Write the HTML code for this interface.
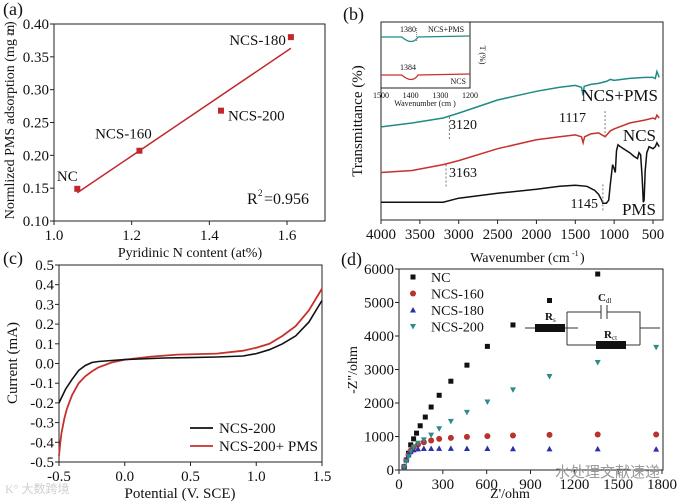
<!DOCTYPE html>
<html><head><meta charset="utf-8"><style>
body{margin:0;background:#fff}
svg{display:block;font-family:"Liberation Serif","DejaVu Serif",serif}
svg text{font-family:"Liberation Serif","DejaVu Serif",serif;fill:#111}
</style></head><body>
<svg id="s" width="678" height="503" viewBox="0 0 678 503"></svg>
<script>
// ---- panel a data
const aX=[1.06,1.22,1.43,1.61];
const aY=[0.149,0.207,0.268,0.380];
const aLabels=["NC","NCS-160","NCS-200","NCS-180"];
const aFitX=[1.06,1.61];
const aFitY=[0.143,0.363];
const aXTicks=[1.0,1.2,1.4,1.6];
const aYTicks=[0.10,0.15,0.20,0.25,0.30,0.35,0.40];
// ---- panel b data
const bPmsX=[4000,3600,3200,3000,2500,2000,1700,1500,1350,1250,1200,1160,1145,1100,1070,1050,1020,1000,985,970,950,920,880,800,740,700,680,660,640,625,615,600,580,550,500,470,450,420];
const bPmsY=[9,9,9,11,13.5,15.5,17,17.5,17,15,13,10,8.5,8.5,10,18,28,26,24,35,38,37,36,34,32,31,34,33,22,9,10,25,34,37,36,37,39,37];
const bNcsX=[4000,3600,3200,3000,2500,2000,1700,1500,1420,1400,1380,1300,1200,1117,1050,1000,800,600,500,470,450,420];
const bNcsY=[24,25,28,30,36,40.5,42,43,42,39,42,43.5,44,42,45,46,49,50.5,51.5,51,53,51.5];
const bMixX=[4000,3600,3200,3000,2500,2000,1700,1500,1420,1400,1385,1300,1200,1100,1050,1000,800,600,500,470,450,420];
const bMixY=[47,49,51.5,54,60.6,65,67,68,67,63,67.5,68.5,69,70,71,70.5,71.5,72,72,71.5,75,72];
const bXTicks=[4000,3500,3000,2500,2000,1500,1000,500];
// ---- panel c data
const cBlkX=[-0.5,-0.45,-0.4,-0.35,-0.3,-0.25,-0.2,-0.1,0,0.3,0.5,0.7,0.9,1.0,1.1,1.2,1.3,1.4,1.5];
const cBlkY=[-0.2,-0.13,-0.08,-0.035,-0.01,0.005,0.01,0.015,0.02,0.028,0.03,0.033,0.038,0.05,0.07,0.1,0.14,0.21,0.32];
const cRedX=[-0.5,-0.49,-0.48,-0.46,-0.44,-0.4,-0.35,-0.3,-0.25,-0.2,-0.1,0,0.2,0.4,0.7,0.9,1.0,1.1,1.2,1.3,1.4,1.5];
const cRedY=[-0.47,-0.4,-0.35,-0.28,-0.23,-0.16,-0.1,-0.065,-0.04,-0.02,0.005,0.02,0.035,0.045,0.05,0.065,0.08,0.1,0.14,0.19,0.27,0.38];
const cXTicks=[-0.5,0.0,0.5,1.0,1.5];
const cYTicks=[-0.5,-0.4,-0.3,-0.2,-0.1,0.0,0.1,0.2,0.3,0.4,0.5];
// ---- panel d data
const dNcX=[35,50,65,80,100,120,145,180,220,275,355,465,605,780,1030,1360];
const dNcY=[100,300,500,750,930,1100,1320,1580,1880,2230,2650,3130,3690,4330,5060,5850];
const dX=[35,50,65,80,100,130,170,220,275,355,465,605,780,1030,1360,1760];
const d160Y=[100,300,450,580,680,760,830,880,930,960,990,1010,1030,1050,1060,1060];
const d180Y=[100,300,450,550,600,630,640,640,645,645,640,640,635,630,630,625];
const d200Y=[80,250,400,550,680,800,900,1040,1230,1450,1720,2030,2390,2790,3210,3660];
const dXTicks=[0,300,600,900,1200,1500,1800];
const dYTicks=[0,1000,2000,3000,4000,5000,6000];

const S=document.getElementById('s');
const NS='http://www.w3.org/2000/svg';
function el(tag,attrs,parent,txt){const e=document.createElementNS(NS,tag);for(const k in attrs)e.setAttribute(k,attrs[k]);if(tag==='text')e.setAttribute('font-family','Liberation Serif, DejaVu Serif, serif');if(txt!==undefined)e.textContent=txt;(parent||S).appendChild(e);return e;}
function lin(d0,d1,p0,p1){return v=>p0+(v-d0)/(d1-d0)*(p1-p0);}
function grp(name){const g=el('g',{});return g;}
function path(xs,ys,fx,fy){return xs.map((x,i)=>(i?'L':'M')+fx(x).toFixed(1)+','+fy(ys[i]).toFixed(1)).join('');}
function frame(g,L,T,R,B){el('rect',{x:L,y:T,width:R-L,height:B-T,fill:'none',stroke:'#222','stroke-width':1},g);}
function xticks(g,ticks,fx,B,fmt,fs){ticks.forEach(t=>{el('line',{x1:fx(t),x2:fx(t),y1:B,y2:B+4,stroke:'#222'},g);const tx=el('text',{x:fx(t),y:B+19,'text-anchor':'middle','font-size':fs||15},g,fmt(t));});}
function yticks(g,ticks,fy,L,fmt,fs){ticks.forEach(t=>{el('line',{x1:L-4,x2:L,y1:fy(t),y2:fy(t),stroke:'#222'},g);const tx=el('text',{x:L-5,y:fy(t)+5,'text-anchor':'end','font-size':fs||15},g,fmt(t));});}

// ===== Panel A
(function(){
const g=grp('panel-a');
const L=54,R=325,T=24,B=221;
const fx=lin(1.0,1.6,54,287),fy=lin(0.10,0.40,221,24);
frame(g,L,T,R,B);
xticks(g,aXTicks,fx,B,v=>v.toFixed(1));
yticks(g,aYTicks,fy,L,v=>v.toFixed(2));
const fit=el('path',{d:path(aFitX,aFitY,fx,fy),stroke:'#c0282d','stroke-width':1.5,fill:'none'},g);

const off=[[-10,-8,'middle'],[-16,-12,'middle'],[7,10,'start'],[-5,8,'end']];
aX.forEach((x,i)=>{const r=el('rect',{x:fx(x)-3,y:fy(aY[i])-3,width:6,height:6,fill:'#c0282d'},g);

el('text',{x:fx(x)+off[i][0],y:fy(aY[i])+off[i][1],'font-size':15,'text-anchor':off[i][2]},g,aLabels[i]);});
el('text',{x:247,y:204,'font-size':16},g,'R');el('text',{x:258,y:196,'font-size':9},g,'2');el('text',{x:264,y:204,'font-size':16},g,'=0.956');
const yt=el('text',{x:14,y:122,'font-size':14,'text-anchor':'middle',transform:'rotate(-90 14 122)'},g,'Normlized PMS adsorption (mg m');

el('text',{x:14,y:36,'font-size':9,transform:'rotate(-90 14 36)'},g,'-2');
el('text',{x:14,y:26,'font-size':14,transform:'rotate(-90 14 26)'},g,')');
const xt=el('text',{x:190,y:257,'font-size':14,'text-anchor':'middle'},g,'Pyridinic N content (at%)');

el('text',{x:3,y:15,'font-size':18},g,'(a)');
})();

// ===== Panel B
(function(){
const g=grp('panel-b');
const L=381,R=663,T=22,B=220;
const fx=lin(4000,500,381,653),fy=lin(0,100,220,22);
frame(g,L,T,R,B);
xticks(g,bXTicks,fx,B,v=>v);
const sets=[[bPmsX,bPmsY,'#111','pms-spectrum'],[bNcsX,bNcsY,'#c8302c','ncs-spectrum'],[bMixX,bMixY,'#1f8a86','ncs-pms-spectrum']];
sets.forEach(s=>{const p=el('path',{d:path(s[0],s[1],fx,fy),stroke:s[2],'stroke-width':1.5,fill:'none'},g);});
[[3120,3120,52,40],[3163,3163,28,16],[1117,1117,55,42],[1145,1145,18,4]].forEach(d=>el('line',{x1:fx(d[0]),x2:fx(d[1]),y1:fy(d[2]),y2:fy(d[3]),stroke:'#777','stroke-dasharray':'2,2'},g));
el('text',{x:449,y:129,'font-size':14},g,'3120');
el('text',{x:449,y:177,'font-size':14},g,'3163');
el('text',{x:586,y:122,'font-size':14,'text-anchor':'end'},g,'1117');
el('text',{x:598,y:208,'font-size':14,'text-anchor':'end'},g,'1145');
el('text',{x:658,y:101,'font-size':17,'text-anchor':'end'},g,'NCS+PMS');
el('text',{x:656,y:141,'font-size':17,'text-anchor':'end'},g,'NCS');
el('text',{x:656,y:215,'font-size':17,'text-anchor':'end'},g,'PMS');
// inset
const IL=381,IR=470,IT=22,IB=88;
el('rect',{x:IL,y:IT,width:IR-IL,height:IB-IT,fill:'#fff',stroke:'#222'},g);
const ix=lin(1500,1200,IL,IR);
[[37,'#1f8a86'],[75,'#c8302c']].forEach(c=>{const y=c[0];el('path',{d:`M${IL},${y}L${ix(1430)},${y}Q${ix(1395)},${y+9} ${ix(1375)},${y}L${IR},${y-1}`,stroke:c[1],'stroke-width':1.2,fill:'none'},g);});
el('line',{x1:ix(1380),x2:ix(1380),y1:28,y2:42,stroke:'#777','stroke-dasharray':'1,1'},g);
el('text',{x:400,y:32,'font-size':8},g,'1380');el('text',{x:428,y:32,'font-size':8},g,'NCS+PMS');
el('text',{x:400,y:70,'font-size':8},g,'1384');el('text',{x:466,y:84,'font-size':8,'text-anchor':'end'},g,'NCS');
[1500,1400,1300,1200].forEach(t=>el('text',{x:ix(t),y:98,'font-size':8,'text-anchor':'middle'},g,t));
el('text',{x:425,y:106,'font-size':8,'text-anchor':'middle'},g,'Wavenumber (cm  )');
el('text',{x:480,y:55,'font-size':8,'text-anchor':'middle',transform:'rotate(90 480 55)'},g,'T (%)');
const yt=el('text',{x:362,y:121,'font-size':15,'text-anchor':'middle',transform:'rotate(-90 362 121)'},g,'Transmittance (%)');

const xt=el('text',{x:520,y:262,'font-size':14,'text-anchor':'middle'},g,'Wavenumber (cm');
el('text',{x:572,y:256,'font-size':8},g,'-1');el('text',{x:580,y:262,'font-size':14},g,')');

el('text',{x:343,y:20,'font-size':18},g,'(b)');
})();

// ===== Panel C
(function(){
const g=grp('panel-c');
const L=59,R=322,T=265,B=462;
const fx=lin(-0.5,1.5,L,R),fy=lin(-0.5,0.5,B,T);
frame(g,L,T,R,B);
xticks(g,cXTicks,fx,B,v=>v.toFixed(1));
yticks(g,cYTicks,fy,L,v=>v.toFixed(1));
const r=el('path',{d:path(cRedX,cRedY,fx,fy),stroke:'#c8302c','stroke-width':1.8,fill:'none'},g);
const b=el('path',{d:path(cBlkX,cBlkY,fx,fy),stroke:'#111','stroke-width':1.6,fill:'none'},g);
el('line',{x1:190,x2:213,y1:428,y2:428,stroke:'#111','stroke-width':1.8},g);
el('text',{x:219,y:433,'font-size':15},g,'NCS-200');
el('line',{x1:190,x2:213,y1:446,y2:446,stroke:'#c8302c','stroke-width':1.8},g);
el('text',{x:219,y:451,'font-size':15},g,'NCS-200+ PMS');
const yt=el('text',{x:17,y:363,'font-size':15,'text-anchor':'middle',transform:'rotate(-90 17 363)'},g,'Current (mA)');

const xt=el('text',{x:180,y:498,'font-size':15,'text-anchor':'middle'},g,'Potential (V. SCE)');

el('text',{x:3,y:264,'font-size':18},g,'(c)');
el('text',{x:5,y:493,'font-size':12,style:'fill:#cfcfcf'},g,'K° 大数跨境');
})();

// ===== Panel D
(function(){
const g=grp('panel-d');
const L=399,R=663,T=269,B=470;
const fx=lin(0,1800,L,662),fy=lin(0,6000,B,T);
frame(g,L,T,R,B);
xticks(g,dXTicks,fx,B,v=>v);
yticks(g,dYTicks,fy,L,v=>v);
const mk={sq:(x,y,c)=>el('rect',{x:x-2.5,y:y-2.5,width:5,height:5,fill:c},g),
 ci:(x,y,c)=>el('circle',{cx:x,cy:y,r:3,fill:c},g),
 up:(x,y,c)=>el('path',{d:`M${x},${y-3}L${x+3},${y+2.5}L${x-3},${y+2.5}Z`,fill:c},g),
 dn:(x,y,c)=>el('path',{d:`M${x},${y+3}L${x+3},${y-2.5}L${x-3},${y-2.5}Z`,fill:c},g)};
const ser=[[dNcX,dNcY,'sq','#111','NC'],[dX,d160Y,'ci','#b8322e','NCS-160'],[dX,d180Y,'up','#2b2fa8','NCS-180'],[dX,d200Y,'dn','#2f8a8a','NCS-200']];
ser.forEach((s,k)=>{s[0].forEach((x,i)=>{const m=mk[s[2]](fx(x),fy(s[1][i]),s[3]);});
 mk[s[2]](413,277+k*16.5,s[3]);el('text',{x:431,y:282+k*16.5,'font-size':14},g,s[4]);});
// circuit
const cg=g;
el('path',{d:'M525,328H578M567,312V345M567,312H640V345M567,345H640M640,328H660',stroke:'#333',fill:'none'},cg);
el('rect',{x:535,y:324,width:30,height:8,fill:'#111'},cg);
el('rect',{x:596,y:341,width:30,height:8,fill:'#111'},cg);
el('rect',{x:601,y:306,width:6,height:12,fill:'#fff'},cg);
el('line',{x1:601,x2:601,y1:305,y2:319,stroke:'#333'},cg);el('line',{x1:607,x2:607,y1:305,y2:319,stroke:'#333'},cg);
el('text',{x:545,y:320,'font-size':11,'font-weight':'bold'},cg,'R');el('text',{x:553,y:322,'font-size':7},cg,'s');
el('text',{x:598,y:301,'font-size':11,'font-weight':'bold'},cg,'C');el('text',{x:606,y:303,'font-size':7},cg,'dl');
el('text',{x:604,y:338,'font-size':11,'font-weight':'bold'},cg,'R');el('text',{x:612,y:340,'font-size':7},cg,'ct');
const yt=el('text',{x:357,y:370,'font-size':14,'text-anchor':'middle',transform:'rotate(-90 357 370)'},g,'-Z"/ohm');

const xt=el('text',{x:510,y:498,'font-size':14,'text-anchor':'middle'},g,"Z'/ohm");

el('text',{x:341,y:265,'font-size':18},g,'(d)');
el('text',{x:555,y:477,'font-size':15,style:'fill:#9a9a9a'},g,'水处理文献速递');
})();
</script>
</body></html>
